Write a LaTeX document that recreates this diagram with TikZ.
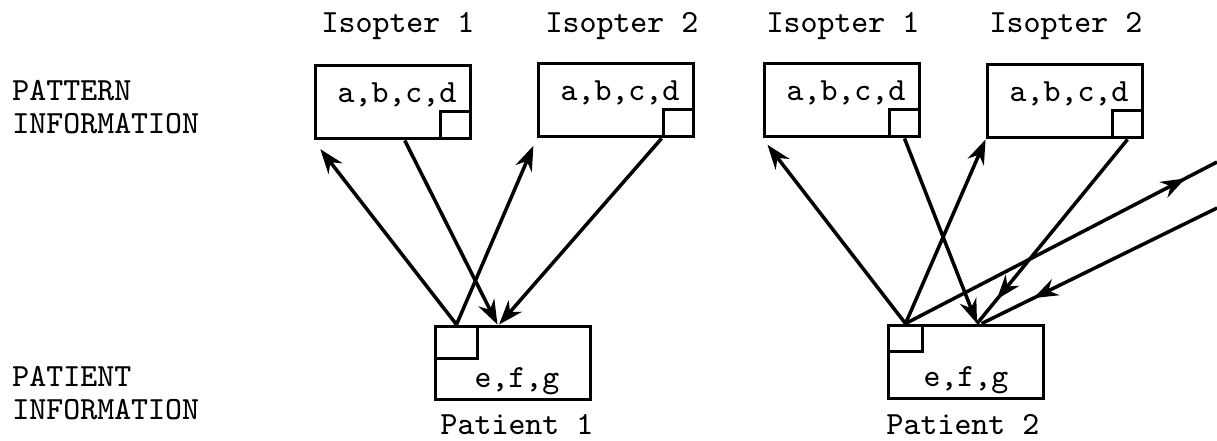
\documentclass[tikz,border=0pt]{standalone}
\usepackage{fontspec}
\usetikzlibrary{arrows.meta,decorations.markings}

\begin{document}
\begin{tikzpicture}[x=0.1mm, y=-0.1mm, >={Stealth[length=7pt,width=5pt]},
    every node/.style={font=\ttfamily\fontsize{9.2}{9.6}\selectfont},
    infobox/.style={draw, line width=1.1pt, inner sep=0pt, minimum width=1.55cm, minimum height=0.73cm},
    cornerbox/.style={draw, line width=1.1pt, inner sep=0pt, minimum width=0.3cm, minimum height=0.27cm},
    link/.style={line width=1pt, ->},
    midlink/.style={line width=1pt, postaction={decorate},
        decoration={markings, mark=at position #1 with {\arrow{>}}}}]
    \useasboundingbox (0,0) rectangle (1217,440);

    % Row captions
    \node[align=left, anchor=west] (pattcap) at (0,107) {PATTERN\\INFORMATION};
    \node[align=left, anchor=west] (patcap) at (0,393) {PATIENT\\INFORMATION};

    % Isopter boxes, left group
    \node[infobox] (isoL1) at (393,102) {};
    \node[infobox] (isoL2) at (616,100) {};
    % Isopter boxes, right group
    \node[infobox] (isoR1) at (842,100) {};
    \node[infobox] (isoR2) at (1065,101) {};

    % Small corner boxes
    \foreach \b in {isoL1,isoL2,isoR1,isoR2}{
        \node[cornerbox, anchor=south east] (\b c) at (\b.south east) {};
        \node at ([xshift=0.4mm, yshift=0.7mm]\b.center) {a,b,c,d};
    }

    % Isopter titles
    \node (tL1) at (398,26) {Isopter 1};
    \node (tL2) at (622,26) {Isopter 2};
    \node (tR1) at (843,26) {Isopter 1};
    \node (tR2) at (1066,26) {Isopter 2};

    % Patient boxes
    \node[infobox] (p1) at (513,363) {};
    \node[infobox] (p2) at (966,362) {};
    \node[cornerbox, anchor=north west, minimum width=0.42cm, minimum height=0.32cm] (p1c) at (p1.north west) {};
    \node[cornerbox, anchor=north west, minimum width=0.34cm, minimum height=0.26cm] (p2c) at (p2.north west) {};
    \node at ([xshift=0.4mm, yshift=-1.8mm]p1.center) {e,f,g};
    \node at ([yshift=-1.8mm]p2.center) {e,f,g};
    \node (np1) at (517,425) {Patient 1};
    \node (np2) at (963,425) {Patient 2};

    % Left group links
    \draw[link, shorten >=1.1mm] (p1c.north) -- (isoL1.south west);
    \draw[link, shorten >=0.8mm] (p1c.north) -- (isoL2.south west);
    \draw[link] (isoL1.-73) -- (p1.112);
    \draw[link] (isoL2c.south west) -- (p1.110);

    % Right group links
    \draw[link, shorten >=0.8mm] (p2c.north) -- (isoR1.south west);
    \draw[link] (p2c.north) -- (isoR2.south west);
    \draw[link] (isoR1c.south) -- (p2.74);
    \draw[midlink=0.87] (isoR2c.south) -- (p2.74);

    % Links leaving the picture on the right
    \coordinate (outR) at (1217,162);
    \coordinate (inR) at (1217,208);
    \draw[midlink=0.9] (p2c.north) -- (outR);
    \draw[midlink=0.78] (inR) -- (p2.68);
\end{tikzpicture}
\end{document}
